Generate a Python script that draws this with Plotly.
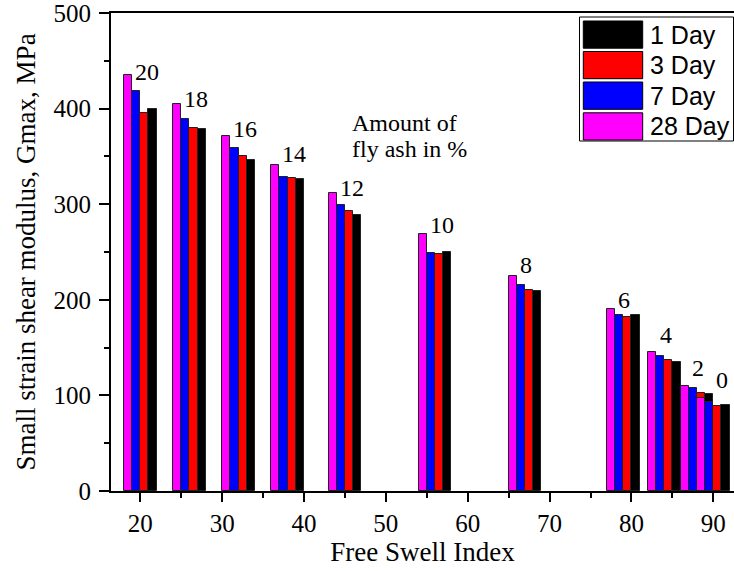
import plotly.graph_objects as go

# ---- data ----
fly_ash_pct = ["20", "18", "16", "14", "12", "10", "8", "6", "4", "2", "0"]
free_swell_index = [20, 26, 32, 38, 45, 56, 67, 79, 84, 88, 90]
day28 = [435, 405, 371, 341, 312, 269, 225, 190, 145, 110, 97]
day7 = [418, 389, 359, 328, 299, 249, 215, 184, 141, 108, 93]
day3 = [395, 380, 350, 327, 293, 248, 210, 182, 137, 103, 89]
day1 = [400, 379, 346, 326, 289, 250, 209, 184, 135, 101, 90]

series_names = ["28 Day", "7 Day", "3 Day", "1 Day"]
series_values = [day28, day7, day3, day1]
series_colors = ["#FF00FF", "#0000FF", "#FF0000", "#000000"]
offsets = [-1.5, -0.5, 0.5, 1.5]

# pixel nudges for the fly-ash labels (layout styling, not data)
label_xshift = [0, 0, 0, 0, 0, 0, 0, 0, 1, 0, 8]
label_yshift = [-4, -2, 0, 4, -2, 2, 4, 2, 10, 11, 11]

SERIF = "Liberation Serif, Times New Roman, serif"
SANS = "Liberation Sans, Arial, sans-serif"

fig = go.Figure()

# one trace per fly-ash group so that later groups are drawn over earlier ones
for gi, fsi in enumerate(free_swell_index):
    fig.add_trace(go.Bar(
        x=[fsi + o for o in offsets],
        y=[vals[gi] for vals in series_values],
        width=1,
        marker=dict(color=series_colors, line=dict(color="#222222", width=1)),
        showlegend=False,
        hoverinfo="x+y",
    ))

# labels: amount of fly ash
for gi, fsi in enumerate(free_swell_index):
    fig.add_annotation(
        x=fsi - 1, y=day28[gi], text=fly_ash_pct[gi],
        xref="x", yref="y", xanchor="left", yanchor="bottom",
        showarrow=False, xshift=1 + label_xshift[gi], yshift=-8 + label_yshift[gi],
        font=dict(family=SERIF, size=24, color="black"),
    )

fig.add_annotation(
    x=45.6, y=384.5, xref="x", yref="y", text="Amount of",
    xanchor="left", yanchor="middle", align="left", showarrow=False,
    font=dict(family=SERIF, size=24, color="black"),
)
fig.add_annotation(
    x=45.6, y=357.5, xref="x", yref="y", text="fly ash in %",
    xanchor="left", yanchor="middle", align="left", showarrow=False,
    font=dict(family=SERIF, size=24, color="black"),
)

# manual legend (Origin style wide swatches)
L, T, B = 111, 13, 491
PW, PH = 623, B - T
def px(xp):
    return (xp - L) / PW
def py(yp):
    return (B - yp) / PH

fig.add_shape(type="rect", xref="paper", yref="paper",
              x0=px(579.5), x1=px(733.5), y0=py(141), y1=py(17),
              line=dict(color="black", width=1), fillcolor="white", layer="above")
legend_order = [3, 2, 1, 0]
rows = [(21, 48.2), (51.5, 78.7), (82, 109.3), (112.8, 140)]
for (y0, y1), si in zip(rows, legend_order):
    fig.add_shape(type="rect", xref="paper", yref="paper",
                  x0=px(583.3), x1=px(642.7), y0=py(y1), y1=py(y0),
                  line=dict(color="black", width=1), fillcolor=series_colors[si],
                  layer="above")
    fig.add_annotation(x=px(648), y=py((y0 + y1) / 2), xref="paper", yref="paper",
                       text=series_names[si], showarrow=False,
                       xanchor="left", yanchor="middle",
                       font=dict(family=SANS, size=25, color="black"))

fig.update_layout(
    width=734, height=571,
    margin=dict(l=L, r=0, t=T, b=571 - B, pad=0),
    paper_bgcolor="white", plot_bgcolor="white",
    barmode="overlay", bargap=0,
    showlegend=False,
    font=dict(family=SERIF, size=25, color="black"),
)

fig.update_xaxes(
    range=[16.42, 92.53], tickvals=[20, 30, 40, 50, 60, 70, 80, 90],
    ticks="outside", ticklen=9, tickwidth=2, tickcolor="black",
    minor=dict(tickvals=[25, 35, 45, 55, 65, 75, 85], ticks="outside", ticklen=5,
               tickwidth=2, tickcolor="black"),
    showline=True, linewidth=2, linecolor="black", mirror=True,
    showgrid=False, zeroline=False, ticklabeloverflow="allow",
    tickfont=dict(family=SERIF, size=25, color="black"),
    title=dict(text="Free Swell Index", font=dict(family=SERIF, size=27, color="black"),
               standoff=2),
    automargin=False,
)
fig.update_yaxes(
    range=[0, 500], tickvals=[0, 100, 200, 300, 400, 500],
    ticks="outside", ticklen=10, tickwidth=2, tickcolor="black",
    minor=dict(tickvals=[50, 150, 250, 350, 450], ticks="outside", ticklen=5,
               tickwidth=2, tickcolor="black"),
    showline=True, linewidth=2, linecolor="black", mirror=False,
    showgrid=False, zeroline=False, ticklabeloverflow="allow", ticklabelstandoff=3,
    tickfont=dict(family=SERIF, size=25, color="black"),
    title=dict(text="Small strain shear modulus, Gmax, MPa",
               font=dict(family=SERIF, size=27, color="black"), standoff=10),
    automargin=False,
)

fig.write_html("out.html")
